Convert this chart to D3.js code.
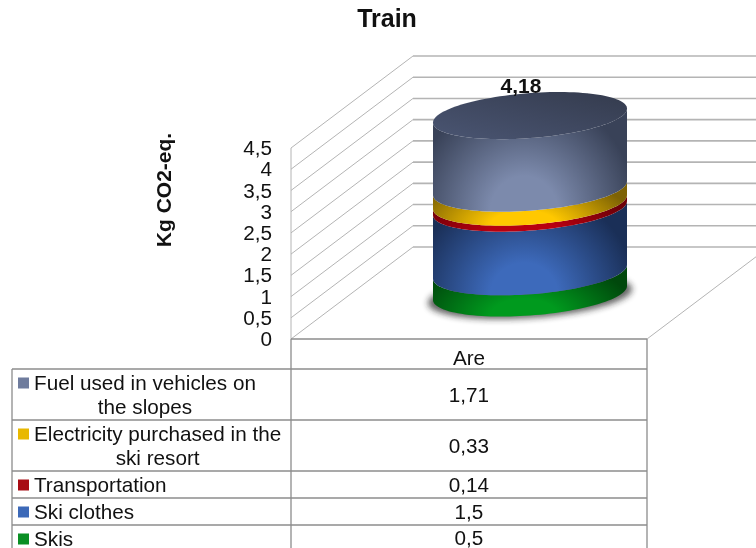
<!DOCTYPE html>
<html>
<head>
<meta charset="utf-8">
<script src="https://cdn.jsdelivr.net/npm/d3@7"></script>
<style>
html, body { margin: 0; padding: 0; background: #fff; overflow: hidden; }
svg { filter: blur(0.35px); }
text { font-family: "Liberation Sans", Arial, sans-serif; fill: #111; }
</style>
</head>
<body>
<script>
// values, bottom of the stack first
const categories = ["Skis", "Ski clothes", "Transportation", "Electricity purchased in the ski resort", "Fuel used in vehicles on the slopes"];
const values = [0.5, 1.5, 0.14, 0.33, 1.71];
const valueLabels = ["0,5", "1,5", "0,14", "0,33", "1,71"];
const legendLines = [["Skis"], ["Ski clothes"], ["Transportation"], ["Electricity purchased in the", "ski resort"], ["Fuel used in vehicles on", "the slopes"]];
const yTicks = [0, 0.5, 1, 1.5, 2, 2.5, 3, 3.5, 4, 4.5];
const group = "Are";
const totalLabel = "4,18";

const colors = {
	"Skis": {mid: "#009a1e", edge: "#00480c", key: "#0a8f24"},
	"Ski clothes": {mid: "#3d6abb", edge: "#1a2f57", key: "#3c69b8"},
	"Transportation": {mid: "#b80010", edge: "#6d0008", key: "#a80c14"},
	"Electricity purchased in the ski resort": {mid: "#ffc800", edge: "#7d6204", key: "#e8b800"},
	"Fuel used in vehicles on the slopes": {mid: "#7c8aac", edge: "#394258", key: "#6f7c9d"}
};

const width = 756, height = 548;
const depthX = 122, depthY = 92;
const gridColor = "#b4b4b4";
const fontSize = 20.7;

const svg = d3.select("body").append("svg")
	.attr("width", width)
	.attr("height", height);

const defs = svg.append("defs");

const y = d3.scaleLinear().domain([0, 4.5]).range([339, 148]);
const x = d3.scaleBand().domain([group]).range([291, 647]);

// walls and floor
const grid = svg.append("g").attr("fill", "none").attr("stroke", gridColor);
yTicks.forEach(t => {
	grid.append("line")
		.attr("x1", x.range()[0]).attr("y1", y(t))
		.attr("x2", x.range()[0] + depthX).attr("y2", y(t) - depthY)
		.attr("stroke-width", 1);
	grid.append("line")
		.attr("x1", x.range()[0] + depthX).attr("y1", y(t) - depthY)
		.attr("x2", x.range()[1] + depthX).attr("y2", y(t) - depthY)
		.attr("stroke-width", 1.6);
});
grid.append("line")
	.attr("x1", x.range()[1]).attr("y1", y(0))
	.attr("x2", x.range()[1] + depthX).attr("y2", y(0) - depthY);
grid.append("line")
	.attr("x1", x.range()[0]).attr("y1", y(4.5))
	.attr("x2", x.range()[0]).attr("y2", y(0));

// y axis
const axis = svg.append("g")
	.attr("transform", "translate(272,0)")
	.call(d3.axisLeft(y).tickValues(yTicks).tickSize(0).tickPadding(0)
		.tickFormat(d => String(d).replace(".", ",")));
axis.select(".domain").remove();
axis.selectAll("text").attr("font-size", fontSize).style("font-family", '"Liberation Sans", Arial, sans-serif');

// cylinder
const stack = d3.stack().keys(categories)([Object.fromEntries(categories.map((c, i) => [c, values[i]]))]);
const cx = x(group) + x.bandwidth() / 2 + depthX / 2;
const rx = 97, ry = 22.5, tilt = 7;
const baseShift = depthY / 2;
const ellipseY = v => y(v) - baseShift;
const rim = (v, t) => [cx + rx * Math.cos(t), ellipseY(v) + ry * Math.sin(t) - tilt * Math.cos(t)];
const frontAngles = d3.range(0, 61).map(i => Math.PI - i * Math.PI / 60);
const line = d3.line();

defs.append("filter").attr("id", "soft").attr("x", "-20%").attr("y", "-50%").attr("width", "140%").attr("height", "200%")
	.append("feGaussianBlur").attr("stdDeviation", 3);

svg.append("path")
	.attr("d", line(d3.range(0, 121).map(i => {
		const t = i * Math.PI / 60;
		return [cx + 102 * Math.cos(t), ellipseY(0) + 3 + 22 * Math.sin(t) - tilt * Math.cos(t)];
	})) + "Z")
	.attr("fill", "#222")
	.attr("opacity", 0.7)
	.attr("filter", "url(#soft)");

const segments = stack.map(s => ({key: s.key, y0: s[0][0], y1: s[0][1]}));

segments.forEach((s, i) => {
	const g = defs.append("radialGradient")
		.attr("id", "seg" + i)
		.attr("cx", 0.47).attr("cy", 1).attr("r", 1)
		.attr("gradientTransform", "translate(0.47,1) scale(0.58,1.15) translate(-0.47,-1)");
	g.append("stop").attr("offset", "0%").attr("stop-color", colors[s.key].mid);
	g.append("stop").attr("offset", "30%").attr("stop-color", colors[s.key].mid);
	g.append("stop").attr("offset", "100%").attr("stop-color", colors[s.key].edge);
});

svg.append("g").selectAll("path")
	.data(segments)
	.join("path")
	.attr("d", s => {
		const lower = frontAngles.map(t => rim(s.y0, t));
		const upper = frontAngles.slice().reverse().map(t => rim(s.y1, t));
		return line(lower.concat(upper)) + "Z";
	})
	.attr("fill", (s, i) => "url(#seg" + i + ")");

const topGrad = defs.append("linearGradient").attr("id", "topFace")
	.attr("x1", 0).attr("y1", 1).attr("x2", 1).attr("y2", 0);
topGrad.append("stop").attr("offset", "0%").attr("stop-color", "#4a5572");
topGrad.append("stop").attr("offset", "50%").attr("stop-color", "#3f4860");
topGrad.append("stop").attr("offset", "100%").attr("stop-color", "#343b4d");

const total = d3.sum(values);
svg.append("path")
	.attr("d", line(d3.range(0, 121).map(i => rim(total, i * Math.PI / 60))) + "Z")
	.attr("fill", "url(#topFace)");

svg.append("text")
	.attr("x", 521)
	.attr("y", ellipseY(total) - 23)
	.attr("text-anchor", "middle")
	.attr("font-size", 21)
	.attr("font-weight", "bold")
	.text(totalLabel);

// titles
svg.append("text")
	.attr("x", 387).attr("y", 27)
	.attr("text-anchor", "middle")
	.attr("font-size", 25)
	.attr("font-weight", "bold")
	.text("Train");

svg.append("text")
	.attr("transform", "translate(171,190) rotate(-90)")
	.attr("text-anchor", "middle")
	.attr("font-size", 21)
	.attr("font-weight", "bold")
	.text("Kg CO2-eq.");

// data table, top row first
const rowBreaks = [369, 420, 471, 498, 525, 552];
const tableLeft = 12, tableMid = x.range()[0], tableRight = x.range()[1];
const table = svg.append("g");
const tableLine = (x1, y1, x2, y2) => table.append("line")
	.attr("x1", x1).attr("y1", y1).attr("x2", x2).attr("y2", y2)
	.attr("stroke", "#8c8c8c").attr("stroke-width", 1.3);

tableLine(tableMid, y(0), tableRight, y(0));
tableLine(tableMid, y(0), tableMid, height);
tableLine(tableRight, y(0), tableRight, height);
tableLine(tableLeft, rowBreaks[0], tableLeft, height);
rowBreaks.slice(0, 5).forEach(b => tableLine(tableLeft, b, tableRight, b));

svg.append("text")
	.attr("x", x(group) + x.bandwidth() / 2)
	.attr("y", 365)
	.attr("text-anchor", "middle")
	.attr("font-size", fontSize)
	.text(group);

const rows = categories.map((c, i) => ({key: c, lines: legendLines[i], label: valueLabels[i]})).reverse();
rows.forEach((r, i) => {
	const top = rowBreaks[i];
	const bottom = rowBreaks[i + 1];
	const two = r.lines.length > 1;
	const first = top + 20.5;

	table.append("rect")
		.attr("x", 18).attr("y", first - 12)
		.attr("width", 11).attr("height", 11)
		.attr("fill", colors[r.key].key);

	const txt = table.append("text").attr("font-size", fontSize);
	const head = txt.append("tspan").attr("x", 34).attr("y", first).text(r.lines[0]);
	if (two) {
		const w = head.node().getComputedTextLength();
		txt.append("tspan")
			.attr("x", 34 + w / 2)
			.attr("y", first + 24)
			.attr("text-anchor", "middle")
			.text(r.lines[1]);
	}

	table.append("text")
		.attr("x", x(group) + x.bandwidth() / 2)
		.attr("y", (top + Math.min(bottom, 551)) / 2 + 7)
		.attr("text-anchor", "middle")
		.attr("font-size", fontSize)
		.text(r.label);
});
</script>
</body>
</html>
